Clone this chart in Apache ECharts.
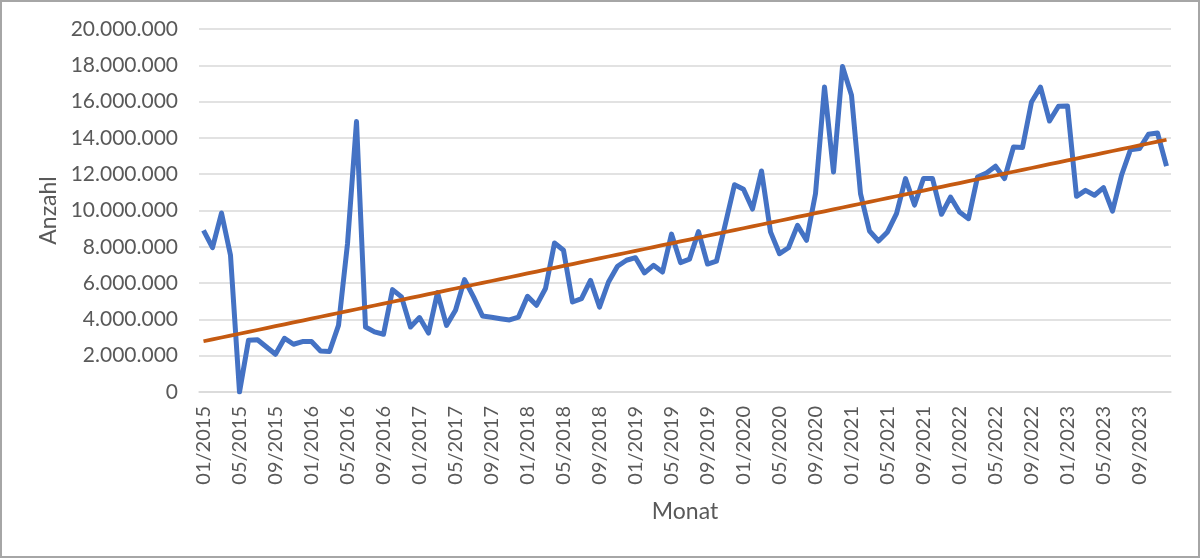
<!DOCTYPE html>
<html>
<head>
<meta charset="utf-8">
<script src="https://cdn.jsdelivr.net/npm/echarts@6/dist/echarts.min.js"></script>
<style>
  html, body { margin: 0; padding: 0; background: #fff; }
  #main { width: 1200px; height: 558px; box-sizing: border-box; border: 2px solid #a6a6a6; }
</style>
</head>
<body>
<div id="main"></div>
<script>
// Monate 01/2015 - 12/2023
var years = [2015, 2016, 2017, 2018, 2019, 2020, 2021, 2022, 2023];
var months = ['01', '02', '03', '04', '05', '06', '07', '08', '09', '10', '11', '12'];

// Anzahl pro Monat (in Mio.)
var values2015 = [8.91, 7.95, 9.86, 7.53, 0.0, 2.85, 2.88, 2.48, 2.08, 2.96, 2.63, 2.78];
var values2016 = [2.78, 2.26, 2.23, 3.67, 8.17, 14.9, 3.58, 3.31, 3.18, 5.64, 5.24, 3.58];
var values2017 = [4.10, 3.25, 5.48, 3.67, 4.50, 6.19, 5.24, 4.19, 4.12, 4.04, 3.97, 4.13];
var values2018 = [5.27, 4.78, 5.70, 8.21, 7.81, 4.96, 5.14, 6.15, 4.68, 6.06, 6.93, 7.26];
var values2019 = [7.40, 6.56, 6.98, 6.61, 8.70, 7.13, 7.32, 8.84, 7.05, 7.21, 9.29, 11.42];
var values2020 = [11.17, 10.08, 12.18, 8.82, 7.62, 7.95, 9.18, 8.36, 10.93, 16.8, 12.12, 17.94];
var values2021 = [16.35, 10.93, 8.87, 8.32, 8.82, 9.83, 11.76, 10.3, 11.76, 11.76, 9.79, 10.74];
var values2022 = [9.92, 9.55, 11.85, 12.07, 12.44, 11.76, 13.5, 13.47, 15.98, 16.8, 14.93, 15.74];
var values2023 = [15.76, 10.78, 11.11, 10.84, 11.26, 9.97, 11.94, 13.35, 13.41, 14.2, 14.27, 12.44];

var categories = [];
years.forEach(function (y) {
    months.forEach(function (m) { categories.push(m + '/' + y); });
});

var anzahl = [].concat(values2015, values2016, values2017, values2018, values2019,
    values2020, values2021, values2022, values2023).map(function (v) {
    return Math.round(v * 1000000);
});

// lineare Trendlinie (kleinste Quadrate)
function trend(data) {
    var n = data.length, sx = 0, sy = 0, sxx = 0, sxy = 0;
    for (var i = 0; i < n; i++) {
        sx += i; sy += data[i]; sxx += i * i; sxy += i * data[i];
    }
    var b = (n * sxy - sx * sy) / (n * sxx - sx * sx);
    var a = (sy - b * sx) / n;
    return data.map(function (v, i) { return a + b * i; });
}

function fmt(v) {
    return String(v).replace(/\B(?=(\d{3})+(?!\d))/g, '.');
}

var chart = echarts.init(document.getElementById('main'));
var textColor = '#595959';

var option = {
    animation: false,
    backgroundColor: '#fff',
    grid: { left: 197, right: 27, top: 27, bottom: 164 },
    xAxis: {
        type: 'category',
        data: categories,
        boundaryGap: true,
        name: 'Monat',
        nameLocation: 'middle',
        nameGap: 108,
        nameTextStyle: { color: textColor, fontSize: 23, fontFamily: 'Lato' },
        axisLine: { lineStyle: { color: '#d9d9d9', width: 1.5 } },
        axisTick: { show: false },
        axisLabel: {
            interval: 3,
            rotate: 90,
            margin: 14,
            color: textColor,
            fontSize: 20,
            fontFamily: 'Lato'
        }
    },
    yAxis: {
        type: 'value',
        min: 0,
        max: 20000000,
        interval: 2000000,
        name: 'Anzahl',
        nameLocation: 'middle',
        nameGap: 136,
        nameTextStyle: { color: textColor, fontSize: 23, fontFamily: 'Lato' },
        axisLine: { show: false },
        axisTick: { show: false },
        splitLine: { lineStyle: { color: '#d9d9d9', width: 1.5 } },
        axisLabel: {
            margin: 21,
            color: textColor,
            fontSize: 21,
            fontFamily: 'Lato',
            formatter: fmt
        }
    },
    series: [
        {
            name: 'Anzahl',
            type: 'line',
            data: anzahl,
            showSymbol: false,
            lineStyle: { color: '#4472C4', width: 5, join: 'round' }
        },
        {
            name: 'Trend',
            type: 'line',
            data: trend(anzahl),
            showSymbol: false,
            lineStyle: { color: '#C55A11', width: 3.75 }
        }
    ]
};

chart.setOption(option);
</script>
</body>
</html>
